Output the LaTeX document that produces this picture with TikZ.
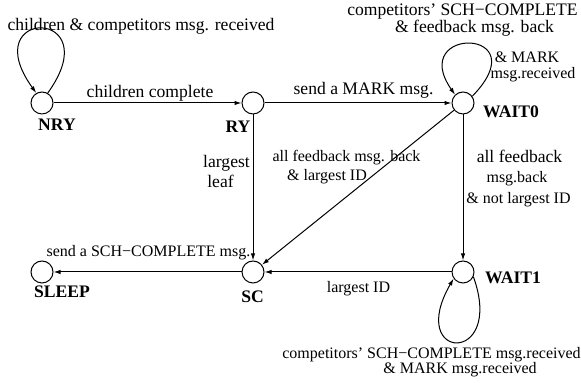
\documentclass[tikz,border=0pt]{standalone}
\usepackage{fontspec}
\setmainfont{Liberation Serif}
\usetikzlibrary{arrows.meta}

\tikzset{
  stnode/.style={draw,circle,minimum size=11pt,inner sep=0pt},
  stname/.style={font=\fontsize{8.8}{10}\selectfont\bfseries,inner sep=0pt},
  lbl/.style={font=\fontsize{8.8}{10}\selectfont,inner sep=0pt},
  lblsm/.style={font=\fontsize{8}{9}\selectfont,inner sep=0pt}
}

\begin{document}
\begin{tikzpicture}[x=0.5pt,y=0.5pt]
\useasboundingbox (0,0) rectangle (581,383);
\begin{scope}[>={Latex[length=3.5pt,width=2.2pt]},line width=0.5pt]

    % states
    \node[stnode] (nry)   at (42,280)  {};
    \node[stnode] (ry)    at (253,280) {};
    \node[stnode] (wait0) at (463,280) {};
    \node[stnode] (sleep) at (42,111)  {};
    \node[stnode] (sc)    at (253,111) {};
    \node[stnode] (wait1) at (463,111) {};

    \node[stname] (nrylbl)   at (57,258)    {NRY};
    \node[stname] (rylbl)    at (238,256)   {RY};
    \node[stname] (wait0lbl) at (511,271)   {WAIT0};
    \node[stname] (sleeplbl) at (62,91.5)   {SLEEP};
    \node[stname] (sclbl)    at (252.5,86.5) {SC};
    \node[stname] (wait1lbl) at (513,105)   {WAIT1};

    % transitions
    \draw[->] (nry) -- (ry);
    \draw[->] (ry) -- (wait0);
    \draw[->] (ry) -- (sc);
    \draw[->] (wait0) -- (sc);
    \draw[->] (wait0) -- (wait1);
    \draw[->] (wait1) -- (sc);
    \draw[->] (sc) -- (sleep);

    % self loops
    \draw[->] (nry.60) .. controls +(62,86) and +(-62,86) .. (nry.120);
    \draw[->] (wait0.36) .. controls +(67,69) and +(-48,69) .. (wait0.134);
    \draw[->] (wait1.-25) .. controls +(32,-89) and +(-48,-83) .. (wait1.-145);

    % labels
    \node[lbl] (lchild)  at (141,356.5) {children \& competitors msg. received};
    \node[lbl] (lcompl)  at (150,289.5) {children complete};
    \node[lbl] (lmark)   at (363.5,293) {send a MARK msg.};
    \node[lbl] (llarg)   at (226.5,220) {largest};
    \node[lbl] (lleaf)   at (220.5,202) {leaf};
    \node[lblsm] (lallfb)  at (346.5,225) {all feedback msg. back};
    \node[lblsm] (llargid) at (327,206.5) {\& largest ID};
    \node[lbl] (lfb1)    at (519.5,227) {all feedback};
    \node[lblsm] (lfb2)  at (517,204.5) {msg.back};
    \node[lblsm] (lfb3)  at (518.5,183.5) {\& not largest ID};
    \node[lblsm] (lid)   at (358.5,94.5) {largest ID};
    \node[lblsm] (lsch)  at (148.5,130.5) {send a SCH−COMPLETE msg.};
    \node[lbl] (lw0a)    at (462.5,371.5) {competitors' SCH−COMPLETE};
    \node[lbl] (lw0b)    at (474.5,354.5) {\& feedback msg. back};
    \node[lblsm] (lw0c)  at (527,326) {\& MARK};
    \node[lblsm] (lw0d)  at (533,308) {msg.received};
    \node[lblsm] (lw1a)  at (431.5,28) {competitors' SCH−COMPLETE msg.received};
    \node[lblsm] (lw1b)  at (460,13) {\& MARK msg.received};

\end{scope}
\end{tikzpicture}
\end{document}
